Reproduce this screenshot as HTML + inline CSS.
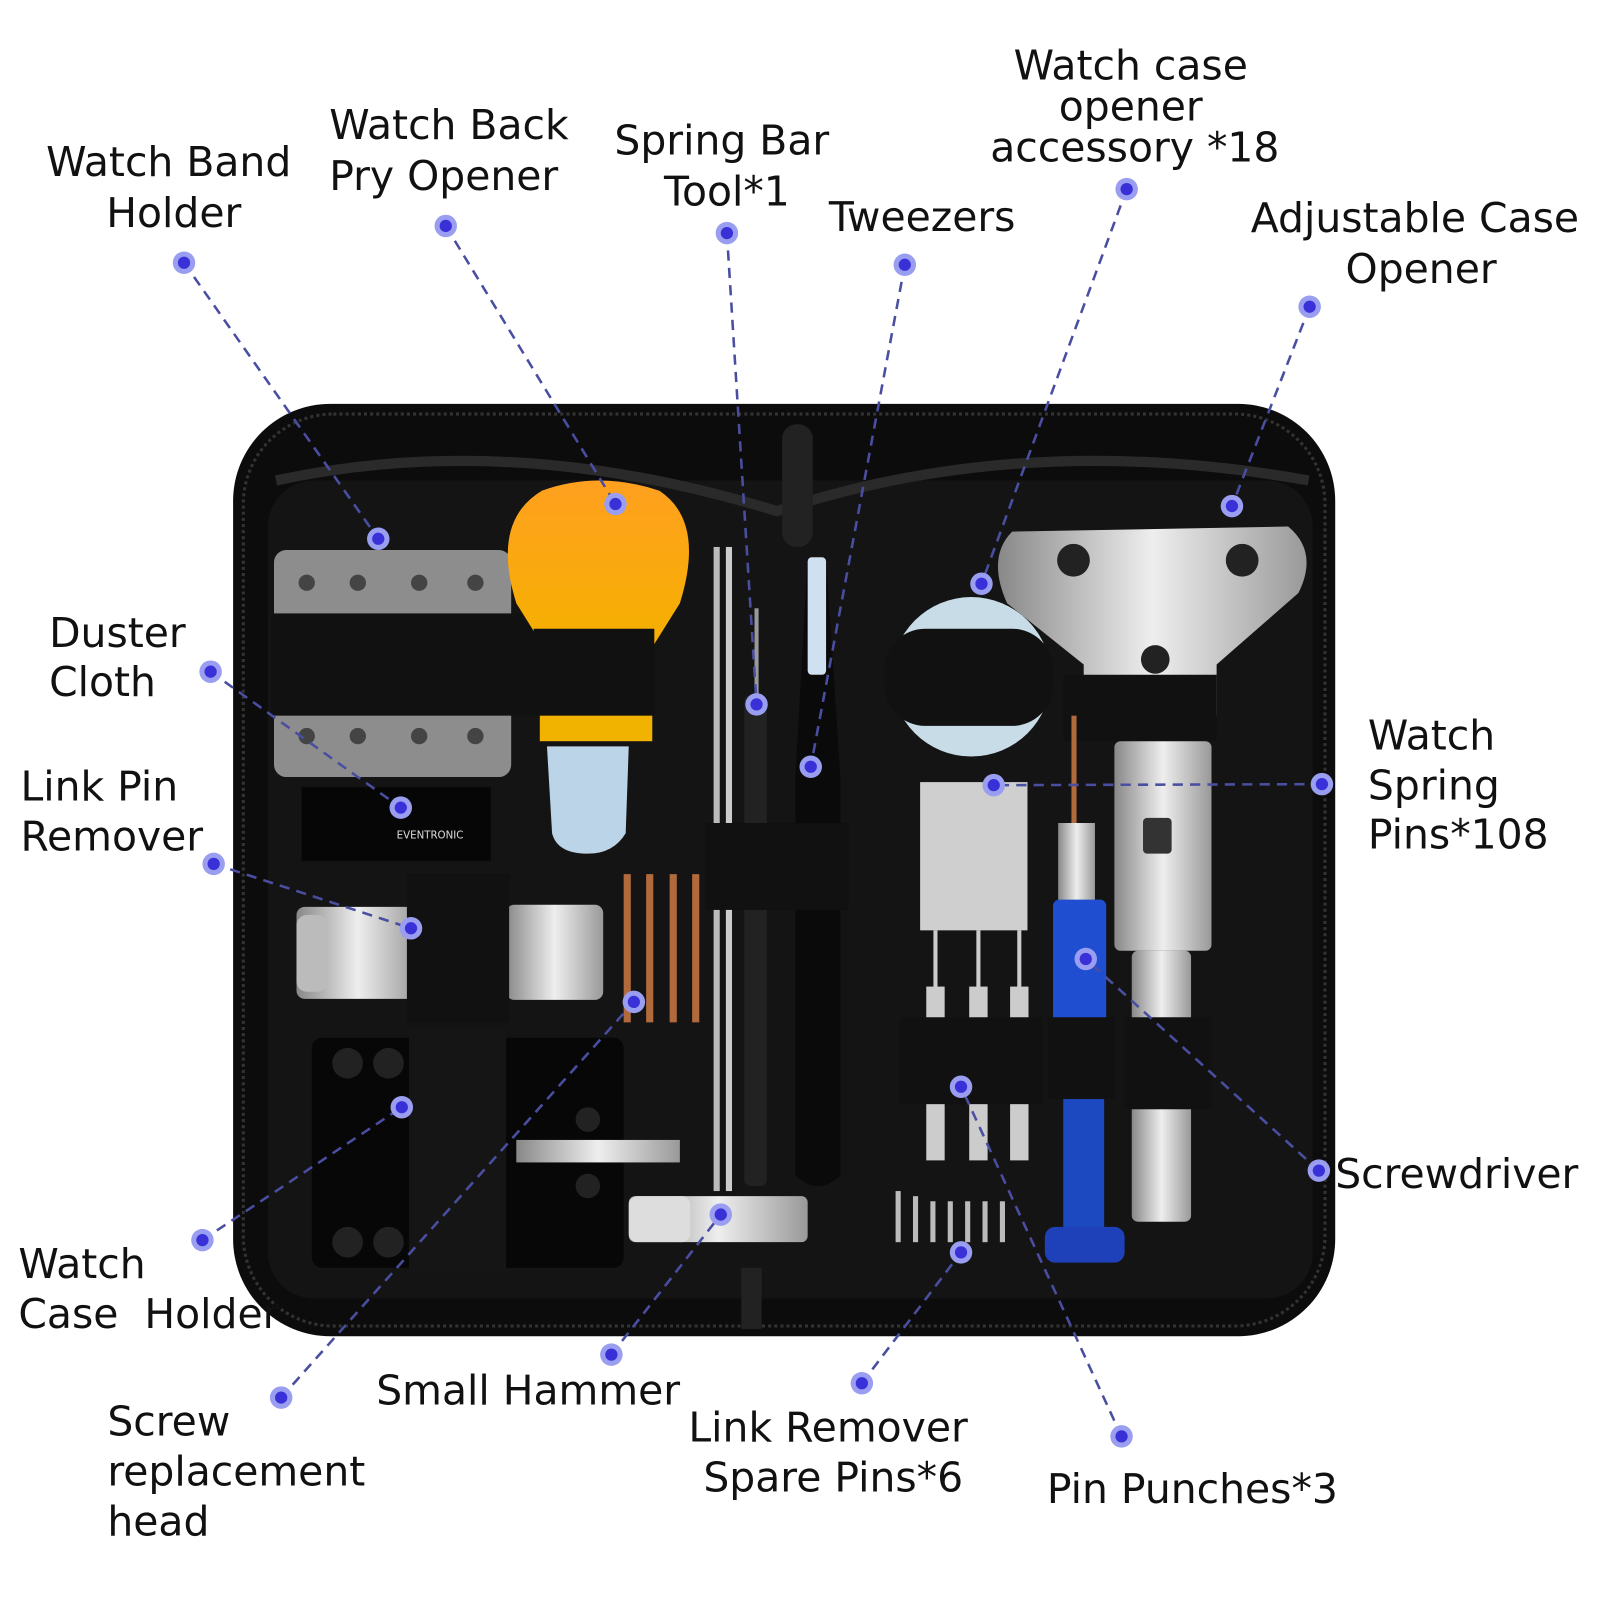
<!DOCTYPE html>
<html><head><meta charset="utf-8"><style>
html,body{margin:0;padding:0;background:#fff;width:1600px;height:1600px;overflow:hidden}
svg{display:block}
text{font-family:"DejaVu Sans","Liberation Sans",sans-serif;font-size:40px;fill:#111}
</style></head><body>
<svg width="1600" height="1600" viewBox="0 0 1565 1565" xmlns="http://www.w3.org/2000/svg">
<defs>
<linearGradient id="sil" x1="0" y1="0" x2="1" y2="0"><stop offset="0" stop-color="#888"/><stop offset=".5" stop-color="#eee"/><stop offset="1" stop-color="#999"/></linearGradient>
<linearGradient id="org" x1="0" y1="0" x2="0" y2="1"><stop offset="0" stop-color="#ffa020"/><stop offset="1" stop-color="#f6b000"/></linearGradient>
</defs>
<rect width="1565" height="1565" fill="#fff"/>
<!-- case -->
<rect x="228" y="395" width="1078" height="912" rx="95" fill="#0c0c0c"/>
<rect x="238" y="405" width="1058" height="892" rx="88" fill="none" stroke="#333" stroke-width="3" stroke-dasharray="3 3"/>
<rect x="262" y="470" width="1022" height="800" rx="45" fill="#141414"/>
<path d="M270 470 Q500 420 760 500 Q1000 420 1280 470" fill="none" stroke="#2a2a2a" stroke-width="10"/>
<rect x="765" y="415" width="30" height="120" rx="14" fill="#222"/>
<rect x="725" y="1240" width="20" height="60" fill="#222"/>
<!-- band holder -->
<rect x="268" y="538" width="232" height="222" rx="12" fill="#8d8d8d"/>
<g fill="#444"><circle cx="300" cy="570" r="8"/><circle cx="350" cy="570" r="8"/><circle cx="410" cy="570" r="8"/><circle cx="465" cy="570" r="8"/><circle cx="300" cy="720" r="8"/><circle cx="350" cy="720" r="8"/><circle cx="410" cy="720" r="8"/><circle cx="465" cy="720" r="8"/></g>
<rect x="265" y="600" width="265" height="100" fill="#111"/>
<rect x="295" y="770" width="185" height="72" fill="#060606"/>
<text x="388" y="820" style="font-size:10px;fill:#ddd" >EVENTRONIC</text>
<!-- pry opener -->
<path d="M530 480 Q585 460 645 480 Q690 510 665 590 L640 630 L530 630 L505 590 Q480 510 530 480Z" fill="url(#org)"/>
<rect x="528" y="615" width="110" height="110" fill="#f2b200"/>
<rect x="522" y="615" width="118" height="85" fill="#111"/>
<path d="M535 730 L615 730 L612 815 Q600 835 575 835 Q545 835 540 815Z" fill="#bcd4e8"/>
<!-- link pin remover -->
<rect x="290" y="887" width="120" height="90" rx="8" fill="url(#sil)"/>
<rect x="290" y="895" width="30" height="75" rx="10" fill="#bbb"/>
<rect x="495" y="885" width="95" height="93" rx="8" fill="url(#sil)"/>
<rect x="398" y="855" width="100" height="145" fill="#111"/>
<!-- copper punches -->
<g fill="#b06a3c"><rect x="610" y="855" width="7" height="145"/><rect x="632" y="855" width="7" height="145"/><rect x="655" y="855" width="7" height="145"/><rect x="677" y="855" width="7" height="145"/></g>
<!-- case holder -->
<rect x="305" y="1015" width="305" height="225" rx="10" fill="#070707"/>
<g fill="#222"><circle cx="340" cy="1040" r="15"/><circle cx="380" cy="1040" r="15"/><circle cx="340" cy="1215" r="15"/><circle cx="380" cy="1215" r="15"/><circle cx="575" cy="1095" r="12"/><circle cx="575" cy="1160" r="12"/></g>
<rect x="400" y="1005" width="95" height="240" fill="#151515"/>
<rect x="505" y="1115" width="160" height="22" fill="url(#sil)"/>
<!-- hammer -->
<rect x="615" y="1170" width="175" height="45" rx="6" fill="url(#sil)"/>
<rect x="615" y="1170" width="60" height="45" rx="8" fill="#ddd"/>
<!-- rods -->
<rect x="698" y="535" width="6" height="630" fill="#bbb"/><rect x="710" y="535" width="6" height="630" fill="#ccc"/>
<rect x="728" y="680" width="22" height="480" rx="6" fill="#222"/>
<rect x="738" y="595" width="4" height="90" fill="#999"/>
<!-- tweezers -->
<path d="M790 545 L808 545 L822 760 L822 1150 Q800 1170 778 1150 L778 760Z" fill="#0a0a0a"/>
<rect x="790" y="545" width="18" height="115" rx="4" fill="#cfe0f0"/>
<rect x="690" y="805" width="140" height="85" fill="#111"/>
<!-- container -->
<circle cx="950" cy="662" r="78" fill="#c8dce8"/>
<rect x="865" y="615" width="165" height="95" rx="40" fill="#111"/>
<!-- case opener -->
<path d="M990 520 L1260 515 Q1290 540 1270 580 L1190 650 L1190 700 L1060 700 L1060 650 L985 590 Q965 545 990 520Z" fill="url(#sil)"/>
<g fill="#222"><circle cx="1050" cy="548" r="16"/><circle cx="1215" cy="548" r="16"/><circle cx="1130" cy="645" r="14"/></g>
<rect x="1040" y="660" width="150" height="65" fill="#111"/>
<rect x="1090" y="725" width="95" height="205" rx="6" fill="url(#sil)"/>
<rect x="1118" y="800" width="28" height="35" rx="4" fill="#333"/>
<rect x="1107" y="930" width="58" height="265" rx="6" fill="url(#sil)"/>
<rect x="1100" y="995" width="85" height="90" fill="#111"/>
<!-- spring pins -->
<rect x="900" y="765" width="105" height="145" fill="#cfcfcf"/>
<!-- pin punches -->
<g fill="#ccc"><rect x="913" y="910" width="4" height="60"/><rect x="955" y="910" width="4" height="60"/><rect x="995" y="910" width="4" height="60"/>
<rect x="906" y="965" width="18" height="170"/><rect x="948" y="965" width="18" height="170"/><rect x="988" y="965" width="18" height="170"/></g>
<rect x="880" y="995" width="140" height="85" fill="#111"/>
<g fill="#bbb"><rect x="876" y="1165" width="5" height="50"/><rect x="893" y="1170" width="5" height="45"/><rect x="910" y="1175" width="5" height="40"/><rect x="927" y="1175" width="5" height="40"/><rect x="944" y="1175" width="5" height="40"/><rect x="961" y="1175" width="5" height="40"/><rect x="978" y="1175" width="5" height="40"/></g>
<!-- screwdriver -->
<rect x="1048" y="700" width="5" height="110" fill="#b06a3c"/>
<rect x="1035" y="805" width="36" height="80" fill="url(#sil)"/>
<rect x="1030" y="880" width="52" height="120" rx="6" fill="#1f4fd0"/>
<rect x="1040" y="1070" width="40" height="140" fill="#1d49c0"/>
<rect x="1022" y="1200" width="78" height="35" rx="10" fill="#1e40b8"/>
<rect x="1025" y="995" width="65" height="80" fill="#111"/>
<!-- connectors -->
<g stroke="#4a4ea0" stroke-width="2.5" stroke-dasharray="10 7" fill="none">
<line x1="180" y1="257" x2="370" y2="527"/>
<line x1="436" y1="221" x2="602" y2="493"/>
<line x1="711" y1="228" x2="740" y2="689"/>
<line x1="885" y1="259" x2="793" y2="750"/>
<line x1="1102" y1="185" x2="960" y2="571"/>
<line x1="1281" y1="300" x2="1205" y2="495"/>
<line x1="206" y1="657" x2="392" y2="790"/>
<line x1="209" y1="845" x2="402" y2="908"/>
<line x1="1293" y1="767" x2="972" y2="768"/>
<line x1="1290" y1="1145" x2="1062" y2="938"/>
<line x1="198" y1="1213" x2="393" y2="1083"/>
<line x1="275" y1="1367" x2="620" y2="980"/>
<line x1="598" y1="1325" x2="705" y2="1188"/>
<line x1="843" y1="1353" x2="940" y2="1225"/>
<line x1="1097" y1="1405" x2="940" y2="1063"/>
</g>
<g>
<g fill="#9a9ef0"><circle cx="180" cy="257" r="11"/><circle cx="370" cy="527" r="11"/><circle cx="436" cy="221" r="11"/><circle cx="602" cy="493" r="11"/><circle cx="711" cy="228" r="11"/><circle cx="740" cy="689" r="11"/><circle cx="885" cy="259" r="11"/><circle cx="793" cy="750" r="11"/><circle cx="1102" cy="185" r="11"/><circle cx="960" cy="571" r="11"/><circle cx="1281" cy="300" r="11"/><circle cx="1205" cy="495" r="11"/><circle cx="206" cy="657" r="11"/><circle cx="392" cy="790" r="11"/><circle cx="209" cy="845" r="11"/><circle cx="402" cy="908" r="11"/><circle cx="1293" cy="767" r="11"/><circle cx="972" cy="768" r="11"/><circle cx="1290" cy="1145" r="11"/><circle cx="1062" cy="938" r="11"/><circle cx="198" cy="1213" r="11"/><circle cx="393" cy="1083" r="11"/><circle cx="275" cy="1367" r="11"/><circle cx="620" cy="980" r="11"/><circle cx="598" cy="1325" r="11"/><circle cx="705" cy="1188" r="11"/><circle cx="843" cy="1353" r="11"/><circle cx="940" cy="1225" r="11"/><circle cx="1097" cy="1405" r="11"/><circle cx="940" cy="1063" r="11"/></g>
<g fill="#3a30d8"><circle cx="180" cy="257" r="6"/><circle cx="370" cy="527" r="6"/><circle cx="436" cy="221" r="6"/><circle cx="602" cy="493" r="6"/><circle cx="711" cy="228" r="6"/><circle cx="740" cy="689" r="6"/><circle cx="885" cy="259" r="6"/><circle cx="793" cy="750" r="6"/><circle cx="1102" cy="185" r="6"/><circle cx="960" cy="571" r="6"/><circle cx="1281" cy="300" r="6"/><circle cx="1205" cy="495" r="6"/><circle cx="206" cy="657" r="6"/><circle cx="392" cy="790" r="6"/><circle cx="209" cy="845" r="6"/><circle cx="402" cy="908" r="6"/><circle cx="1293" cy="767" r="6"/><circle cx="972" cy="768" r="6"/><circle cx="1290" cy="1145" r="6"/><circle cx="1062" cy="938" r="6"/><circle cx="198" cy="1213" r="6"/><circle cx="393" cy="1083" r="6"/><circle cx="275" cy="1367" r="6"/><circle cx="620" cy="980" r="6"/><circle cx="598" cy="1325" r="6"/><circle cx="705" cy="1188" r="6"/><circle cx="843" cy="1353" r="6"/><circle cx="940" cy="1225" r="6"/><circle cx="1097" cy="1405" r="6"/><circle cx="940" cy="1063" r="6"/></g>
</g>
<!-- labels -->
<g text-anchor="middle">
<text x="165" y="172">Watch Band</text><text x="170" y="222">Holder</text>
<text x="706" y="151">Spring Bar</text><text x="711" y="201">Tool*1</text>
<text x="902" y="226">Tweezers</text>
<text x="1106" y="78">Watch case</text><text x="1106" y="118">opener</text><text x="1110" y="158">accessory *18</text>
<text x="1384" y="227">Adjustable Case</text><text x="1390" y="277">Opener</text>
<text x="810" y="1410">Link Remover</text><text x="815" y="1459">Spare Pins*6</text>
</g>
<text x="322" y="136">Watch Back</text><text x="322" y="186">Pry Opener</text>
<text x="48" y="633">Duster</text><text x="48" y="681">Cloth</text>
<text x="20" y="783">Link Pin</text><text x="20" y="832">Remover</text>
<text x="1338" y="733">Watch</text><text x="1338" y="782">Spring</text><text x="1338" y="830">Pins*108</text>
<text x="1306" y="1162">Screwdriver</text>
<text x="18" y="1250">Watch</text><text x="18" y="1299" xml:space="preserve">Case  Holder</text>
<text x="105" y="1404">Screw</text><text x="105" y="1453">replacement</text><text x="105" y="1502">head</text>
<text x="368" y="1374">Small Hammer</text>
<text x="1024" y="1470">Pin Punches*3</text>
</svg>
</body></html>
